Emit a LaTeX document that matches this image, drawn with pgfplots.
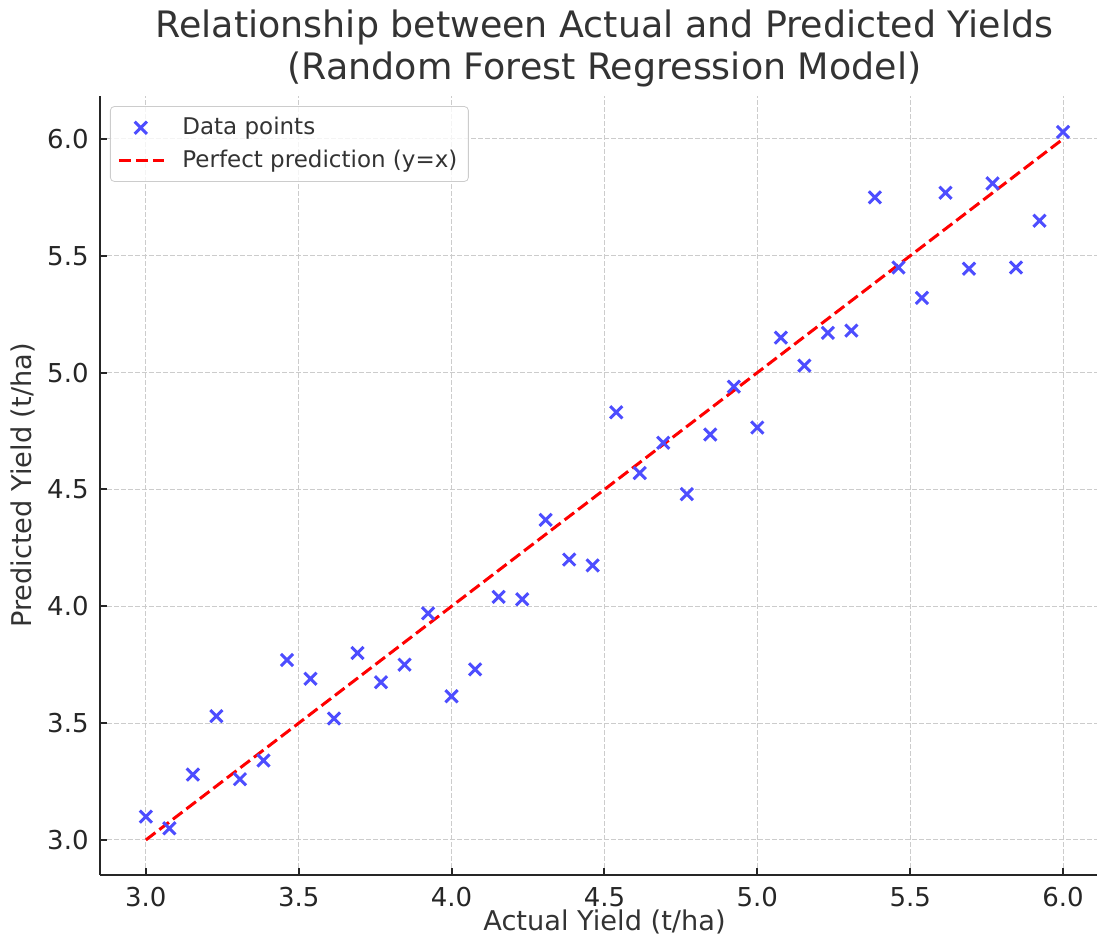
\documentclass[border=0pt]{standalone}
\usepackage{pgfplots}
\pgfplotsset{compat=1.18}
\usepackage{fontspec}
\setmainfont{DejaVu Sans}
\definecolor{ptblue}{HTML}{4D4DFF}
\definecolor{gridc}{HTML}{CCCCCC}
\definecolor{spine}{HTML}{262626}
\definecolor{txt}{HTML}{333333}
\pgfplotsset{
  marklegend/.style={legend image code/.code={\draw[##1] plot coordinates {(11pt,0pt)};}},
  linelegend/.style={legend image code/.code={\draw[##1] (0pt,0pt) -- (22.5pt,0pt);}},
}

\begin{document}
\begin{tikzpicture}
\useasboundingbox (-50pt,-35pt) rectangle (498.5pt,437.5pt);
\begin{axis}[
  at={(0pt,0pt)}, anchor=south west,
  width=498.5pt, height=389.5pt, scale only axis,
  xmin=2.85, xmax=6.111, ymin=2.85, ymax=6.184,
  axis x line*=bottom, axis y line*=left,
  axis line style={-, spine, line width=1pt},
  tick style={spine, line width=1pt}, tick align=inside,
  major tick length=3.5pt,
  xtick={3,3.5,...,6}, ytick={3,3.5,...,6},
  /pgf/number format/.cd, fixed, fixed zerofill, precision=1, assume math mode=true,
  /pgfplots/.cd,
  ticklabel style={font=\fontsize{13}{15}\selectfont, text=spine, inner sep=0pt},
  xticklabel style={anchor=north, yshift=-6pt},
  yticklabel style={anchor=east, xshift=-5.5pt},
  grid=major, grid style={gridc, line width=0.5pt, dash pattern=on 2.5pt off 1pt},
  xlabel={Actual Yield (t/ha)},
  ylabel={Predicted Yield (t/ha)},
  label style={font=\fontsize{13.6}{16}\selectfont, text=txt, inner sep=0pt},
  xlabel style={at={(axis description cs:0.506,-0.0718)}, anchor=base},
  ylabel style={at={(axis description cs:-0.0682,0.5)}, anchor=base},
  title={Relationship between Actual and Predicted Yields\\(Random Forest Regression Model)},
  title style={at={(axis description cs:0.506,1)}, anchor=south, yshift=-1.5pt,
    align=center, inner sep=0pt, font=\fontsize{18.2}{21}\selectfont, text=txt},
  legend style={at={(axis description cs:0.01,0.987)}, anchor=north west,
    draw=gridc, rounded corners=2pt, fill=white, fill opacity=0.8, text opacity=1,
    font=\fontsize{11.5}{13}\selectfont, text=txt, row sep=2pt,
    inner xsep=3.5pt, inner ysep=3.5pt,
    /tikz/every odd column/.append style={column sep=6.5pt}},
  legend cell align=left,
]
\addplot[only marks, mark=x, mark size=4.3pt, ptblue, line width=1.5pt, marklegend]
  coordinates {
  (3.0000,3.10) (3.0769,3.05) (3.1538,3.28) (3.2308,3.53) (3.3077,3.26)
  (3.3846,3.34) (3.4615,3.77) (3.5385,3.69) (3.6154,3.52) (3.6923,3.80)
  (3.7692,3.675) (3.8462,3.75) (3.9231,3.97) (4.0000,3.615) (4.0769,3.73)
  (4.1538,4.04) (4.2308,4.03) (4.3077,4.37) (4.3846,4.20) (4.4615,4.175)
  (4.5385,4.83) (4.6154,4.57) (4.6923,4.70) (4.7692,4.48) (4.8462,4.735)
  (4.9231,4.94) (5.0000,4.765) (5.0769,5.15) (5.1538,5.03) (5.2308,5.17)
  (5.3077,5.18) (5.3846,5.75) (5.4615,5.45) (5.5385,5.32) (5.6154,5.77)
  (5.6923,5.445) (5.7692,5.81) (5.8462,5.45) (5.9231,5.65) (6.0000,6.03)
  };
\addlegendentry{Data points}
\addplot[red, line width=1.5pt, dash pattern=on 6pt off 2.5pt, linelegend]
  coordinates {(3,3) (6,6)};
\addlegendentry{Perfect prediction (y=x)}
\end{axis}
\end{tikzpicture}
\end{document}
